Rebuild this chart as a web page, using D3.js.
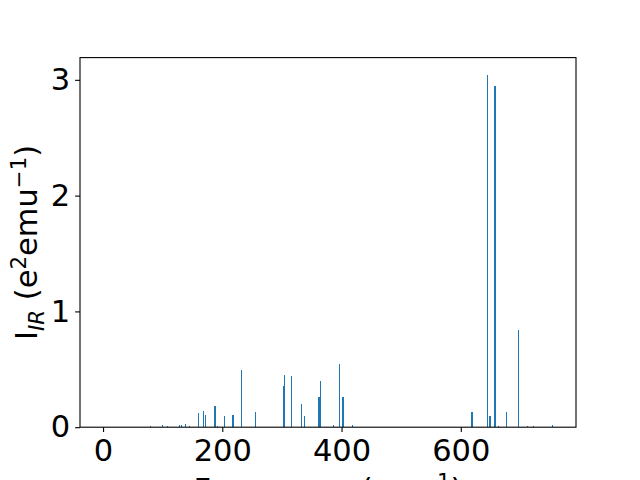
<!DOCTYPE html>
<html>
<head>
<style>
  body { margin: 0; background: #fff; }
  text { font-family: "DejaVu Sans", sans-serif; }
</style>
</head>
<body>
<svg width="640" height="480"></svg>
<script src="https://cdn.jsdelivr.net/npm/d3@7"></script>
<script>
// frequencies (cm^-1) and IR intensities
var freqs = [0, 79, 99, 107.6, 129, 131.5, 137.8, 144.5, 159.7, 168, 171.4,
  187.5, 189.2, 191.6, 202.9, 204.5, 216.5, 218.2, 233, 255.5, 302.5, 304.2,
  316, 332.8, 337.3, 361.5, 363.2, 364.7, 386.5, 396.6, 401.8, 403.4, 418.5,
  618.2, 619.8, 645.4, 647.5, 649.1, 657.4, 659, 663.9, 677.3, 697.5, 712.6, 722.7, 754.6];
var intensities = [0.004, 0.012, 0.02, 0.012, 0.02, 0.02, 0.03, 0.01, 0.12, 0.14, 0.105,
  0.18, 0.18, 0.01, 0.095, 0.04, 0.105, 0.105, 0.49, 0.13, 0.355, 0.45,
  0.44, 0.2, 0.095, 0.26, 0.26, 0.40, 0.015, 0.55, 0.26, 0.26, 0.015,
  0.13, 0.13, 3.04, 0.095, 0.095, 2.95, 2.95, 0.01, 0.13, 0.84, 0.01, 0.01, 0.015];
var xTicks = [0, 200, 400, 600];
var yTicks = [0, 1, 2, 3];
var barWidth = 1.7;
var fs = 30.5;

var svg = d3.select("svg"),
    margin = {top: 57.6, right: 64, bottom: 52.8, left: 80},
    width = 640 - margin.left - margin.right,
    height = 480 - margin.top - margin.bottom,
    g = svg.append("g").attr("transform", "translate(" + margin.left + "," + margin.top + ")");

// matplotlib style 5% margins
var lo = d3.min(freqs) - barWidth / 2, hi = d3.max(freqs) + barWidth / 2;
var pad = (hi - lo) * 0.05;
var x = d3.scaleLinear().domain([lo - pad, hi + pad]).range([0, width]);
var y = d3.scaleLinear().domain([0, d3.max(intensities) * 1.05]).range([height, 0]);

g.selectAll("rect.bar")
  .data(freqs)
  .enter().append("rect")
    .attr("class", "bar")
    .attr("x", function(d) { return x(d - barWidth / 2); })
    .attr("width", function(d) { return Math.max(1, x(barWidth) - x(0)); })
    .attr("y", function(d, i) { return y(intensities[i]); })
    .attr("height", function(d, i) { return height - y(intensities[i]); })
    .attr("fill", "#1f77b4")
    .attr("shape-rendering", "crispEdges");

var xAxis = g.append("g")
  .attr("transform", "translate(0," + height + ")")
  .call(d3.axisBottom(x).tickValues(xTicks).tickFormat(d3.format("d"))
    .tickSize(4.9).tickPadding(7).tickSizeOuter(0));
var yAxis = g.append("g")
  .call(d3.axisLeft(y).tickValues(yTicks).tickFormat(d3.format("d"))
    .tickSize(4.9).tickPadding(4.9).tickSizeOuter(0));

[xAxis, yAxis].forEach(function(a) {
  a.select(".domain").remove();
  a.selectAll("line").attr("stroke", "#000").attr("stroke-width", 1.1);
  a.selectAll("text").attr("font-size", fs).attr("font-family", "DejaVu Sans").attr("fill", "#000");
});

// frame
g.append("rect")
  .attr("width", width).attr("height", height)
  .attr("fill", "none").attr("stroke", "#000").attr("stroke-width", 1.1);

// x label (runs off the bottom edge as in the reference)
var xl = svg.append("text")
  .attr("x", margin.left + width / 2)
  .attr("y", 500)
  .attr("text-anchor", "middle")
  .attr("font-size", fs);
xl.append("tspan").text("Frequency (cm");
xl.append("tspan").attr("dy", -11).attr("font-size", fs * 0.7).text("\u22121");
xl.append("tspan").attr("dy", 11).text(")");

// y label
var yl = svg.append("text")
  .attr("transform", "translate(37," + (margin.top + height / 2) + ") rotate(-90)")
  .attr("text-anchor", "middle")
  .attr("font-size", fs);
yl.append("tspan").text("I");
yl.append("tspan").attr("dy", 7).attr("font-size", fs * 0.7).attr("font-style", "italic").text("IR");
yl.append("tspan").attr("dy", -7).text(" (e");
yl.append("tspan").attr("dy", -11).attr("font-size", fs * 0.7).text("2");
yl.append("tspan").attr("dy", 11).text("emu");
yl.append("tspan").attr("dy", -11).attr("font-size", fs * 0.7).text("\u22121");
yl.append("tspan").attr("dy", 11).text(")");
</script>
</body>
</html>
